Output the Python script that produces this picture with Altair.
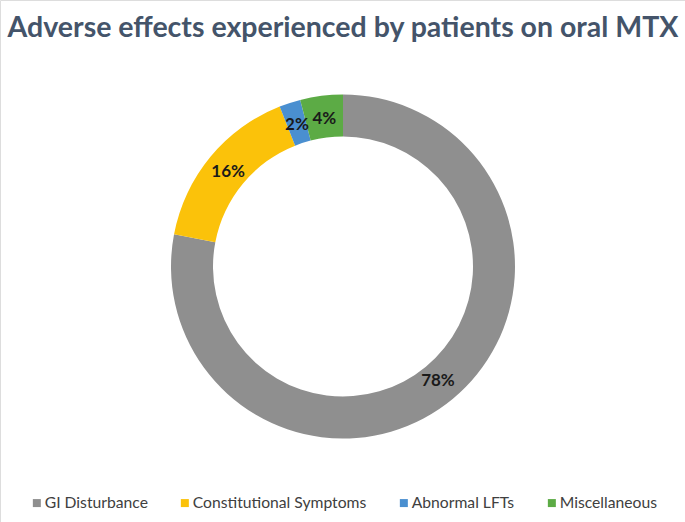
import altair as alt
import pandas as pd

# Adverse effects reported by patients taking oral methotrexate
categories = ["GI Disturbance", "Constitutional Symptoms", "Abnormal LFTs", "Miscellaneous"]
percentages = [78, 16, 2, 4]
colors = ["#8F8F8F", "#FBC20A", "#4A8FD0", "#5CAB45"]

df = pd.DataFrame({
    "category": categories,
    "pct": percentages,
    "idx": list(range(len(categories))),
})
df["label"] = df["pct"].astype(str) + "%"

W, H = 685, 522
CX, CY = 343, 266.5

base = alt.Chart(df).encode(
    theta=alt.Theta("pct:Q", stack=True),
    order=alt.Order("idx:Q"),
    x=alt.value(CX),
    y=alt.value(CY),
)

ring = base.mark_arc(outerRadius=172, innerRadius=130).encode(
    color=alt.Color(
        "category:N",
        sort=categories,
        scale=alt.Scale(domain=categories, range=colors),
        legend=alt.Legend(
            title=None,
            orient="none",
            direction="horizontal",
            legendX=29,
            legendY=495,
            padding=0,
            symbolType="square",
            symbolSize=64,
            symbolStrokeWidth=0,
            labelFont="Lato",
            labelFontSize=15.7,
            labelColor="#404040",
            labelOffset=0,
            labelLimit=400,
            columnPadding=29,
        ),
    )
)

labels = base.mark_text(
    radius=149, font="Lato", fontWeight="bold", fontSize=17, color="#1A1A1A"
).encode(text="label:N")

title = alt.Chart(pd.DataFrame({"t": ["Adverse effects experienced by patients on oral MTX"]})).mark_text(
    font="Lato", fontWeight="bold", fontSize=28.5, color="#44546A", align="center", baseline="middle"
).encode(text="t:N", x=alt.value(CX), y=alt.value(28))

chart = (
    alt.layer(ring, labels, title)
    .properties(width=W, height=H, autosize=alt.AutoSizeParams(type="none"), padding=0)
    .configure_view(stroke=None)
    .configure(background="white")
)

chart.save("out.html", embed_options={"renderer": "svg", "actions": False})
